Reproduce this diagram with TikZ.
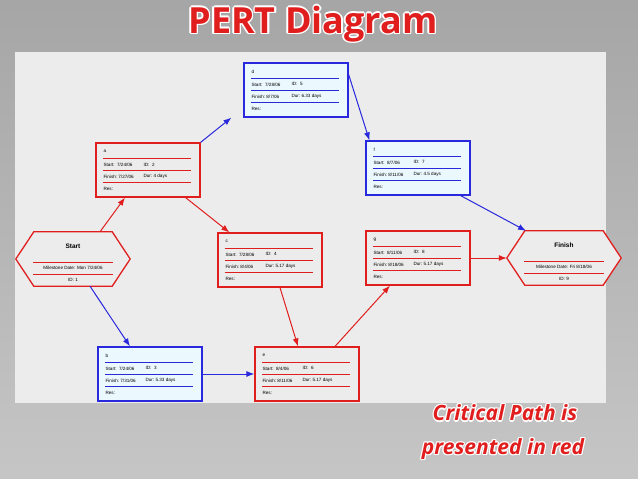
\documentclass[tikz,border=0pt]{standalone}
\usepackage{fontspec}
\setmainfont{Liberation Sans}
\newfontfamily\headfont{Open Sans}
\usetikzlibrary{arrows.meta}

\definecolor{crit}{RGB}{225,30,30}
\definecolor{noncrit}{RGB}{40,40,220}
\definecolor{panel}{RGB}{236,236,236}

\tikzset{
  taskbox/.style={draw=#1, line width=1.2pt, rectangle, minimum width=104pt, minimum height=54pt, inner sep=0pt},
  rowline/.style={draw=#1, line width=0.9pt},
  rowtext/.style={font=\fontsize{4.6}{5}\selectfont, anchor=west, inner sep=0pt},
  link/.style={draw=#1, line width=1pt, -{Latex[length=8pt,width=6pt]}},
  milestone/.style={rectangle, minimum width=114pt, minimum height=54pt, inner sep=0pt},
  hexline/.style={draw=crit, line width=1.3pt, fill=panel},
  outlined/.style={font=\headfont\bfseries\fontsize{#1}{#1}\selectfont}
}

% task box: name, centre, colour, fill, title, start, id, finish, dur
\newcommand{\taskbox}[9]{%
  \node[taskbox=#3, fill=#4] (#1) at (#2) {};
  \draw[rowline=#3] ([xshift=8pt,yshift=-16pt]#1.north west) -- ([xshift=-10pt,yshift=-16pt]#1.north east);
  \draw[rowline=#3] ([xshift=8pt,yshift=-28pt]#1.north west) -- ([xshift=-10pt,yshift=-28pt]#1.north east);
  \draw[rowline=#3] ([xshift=8pt,yshift=-40pt]#1.north west) -- ([xshift=-10pt,yshift=-40pt]#1.north east);
  \node[rowtext] at ([xshift=8pt,yshift=-9pt]#1.north west) {#5};
  \node[rowtext] at ([xshift=8pt,yshift=-22pt]#1.north west) {Start:\ \ #6};
  \node[rowtext] at ([xshift=48pt,yshift=-22pt]#1.north west) {ID:\ \ #7};
  \node[rowtext] at ([xshift=8pt,yshift=-34pt]#1.north west) {Finish:\ #8};
  \node[rowtext] at ([xshift=48pt,yshift=-34pt]#1.north west) {Dur:\ #9};
  \node[rowtext] at ([xshift=8pt,yshift=-47pt]#1.north west) {Res:};
}

% milestone hexagon: name, centre, title, date
\newcommand{\milestonebox}[4]{%
  \node[milestone] (#1) at (#2) {};
  \draw[hexline] (#1.west) -- ([xshift=18pt]#1.north west) -- ([xshift=-18pt]#1.north east)
    -- (#1.east) -- ([xshift=-18pt]#1.south east) -- ([xshift=18pt]#1.south west) -- cycle;
  \node[font=\fontsize{6.5}{7}\selectfont\bfseries] at ([yshift=13pt]#1.center) {#3};
  \draw[rowline=crit] ([xshift=-40pt,yshift=-3pt]#1.center) -- ([xshift=40pt,yshift=-3pt]#1.center);
  \draw[rowline=crit] ([xshift=-40pt,yshift=-15pt]#1.center) -- ([xshift=40pt,yshift=-15pt]#1.center);
  \node[rowtext, anchor=center] at ([yshift=-9pt]#1.center) {Milestone Date: #4};
}

\begin{document}
\begin{tikzpicture}[x=1pt,y=-1pt]

% background and panel
\shade[top color=gray!70, bottom color=gray!45] (0,0) rectangle (638,479);
\fill[panel] (15,52) rectangle (606,403);
\useasboundingbox (0,0) rectangle (638,479);

% title
\foreach \dx/\dy in {-1.5/0,1.5/0,0/-1.5,0/1.5,-1.1/-1.1,1.1/1.1,-1.1/1.1,1.1/-1.1}
  \node[outlined=36, text=white] at (313+\dx,24+\dy) {PERT Diagram};
\node[outlined=36, text=crit] (title) at (313,24) {PERT Diagram};

% tasks
\taskbox{d}{296,90}{noncrit}{cyan!8}{d}{7/28/06}{5}{8/7/06}{6.33 days}
\taskbox{a}{148,170}{crit}{panel}{a}{7/24/06}{2}{7/27/06}{4 days}
\taskbox{f}{418,168}{noncrit}{cyan!8}{f}{8/7/06}{7}{8/11/06}{4.5 days}
\taskbox{c}{270,260}{crit}{panel}{c}{7/28/06}{4}{8/4/06}{5.17 days}
\taskbox{g}{418,258}{crit}{panel}{g}{8/11/06}{8}{8/18/06}{5.17 days}
\taskbox{b}{150,374}{noncrit}{cyan!8}{b}{7/24/06}{3}{7/31/06}{5.33 days}
\taskbox{e}{307,374}{crit}{panel}{e}{8/4/06}{6}{8/11/06}{5.17 days}

% milestones
\milestonebox{start}{73,259}{Start}{Mon 7/24/06}
\node[rowtext, anchor=center] at ([yshift=-21pt]start.center) {ID: 1};
\milestonebox{finish}{564,258}{Finish}{Fri 8/18/06}
\node[rowtext, anchor=center] at ([yshift=-21pt]finish.center) {ID: 9};

% connectors
\draw[link=crit] ([xshift=27pt]start.north) -- ([xshift=-23pt]a.south);
\draw[link=noncrit] (a.north east) -- ([xshift=-12pt]d.south west);
\draw[link=crit] ([xshift=-15pt]a.south east) -- ([xshift=12pt]c.north west);
\draw[link=noncrit] ([xshift=17pt]start.south) -- ([xshift=-20pt]b.north);
\draw[link=noncrit] (b.east) -- (e.west);
\draw[link=crit] ([xshift=10pt]c.south) -- ([xshift=-9pt]e.north);
\draw[link=crit] ([xshift=28pt]e.north) -- ([xshift=-28pt]g.south);
\draw[link=noncrit] ([yshift=-12pt]d.north east) -- ([xshift=4pt]f.north west);
\draw[link=noncrit] ([xshift=-10pt]f.south east) -- ([xshift=-38pt]finish.north);
\draw[link=crit] (g.east) -- (g.east -| finish.west);

% note
\foreach \dx/\dy in {-1.2/0,1.2/0,0/-1.2,0/1.2,-0.9/-0.9,0.9/0.9,-0.9/0.9,0.9/-0.9} {
  \node[text=white, font=\headfont\bfseries\itshape\fontsize{21}{21}\selectfont] at (505+\dx,413+\dy) {Critical Path is};
  \node[text=white, font=\headfont\bfseries\itshape\fontsize{21}{21}\selectfont] at (503+\dx,449+\dy) {presented in red};
}
\node[text=crit, font=\headfont\bfseries\itshape\fontsize{21}{21}\selectfont] (note1) at (505,413) {Critical Path is};
\node[text=crit, font=\headfont\bfseries\itshape\fontsize{21}{21}\selectfont] (note2) at (503,449) {presented in red};
\end{tikzpicture}
\end{document}
